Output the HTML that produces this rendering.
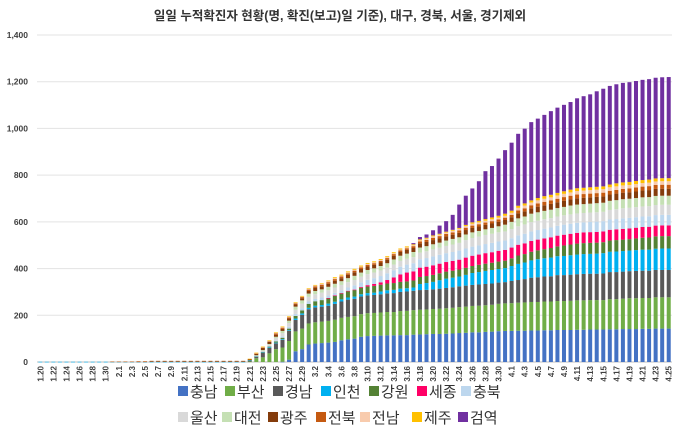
<!DOCTYPE html>
<html><head><meta charset="utf-8"><style>
body{margin:0;background:#fff;}
svg{display:block;font-family:"Liberation Sans","Noto Sans CJK KR",sans-serif;}
</style></head><body>
<svg id="chart" width="680" height="436" viewBox="0 0 680 436" xmlns="http://www.w3.org/2000/svg">
<rect x="0" y="0" width="680" height="436" fill="#fff"/>
<text x="340" y="20" text-anchor="middle" font-size="12.5" font-weight="bold" fill="#333">일일 누적확진자 현황(명, 확진(보고)일 기준), 대구, 경북, 서울, 경기제외</text>
<g id="grid"></g>
<g id="yaxis"></g>
<g id="bars"></g>
<g id="xaxis"></g>
<g id="legend"></g>
</svg>
<script>
const dates = [
"1.20","1.21","1.22","1.23","1.24","1.25","1.26","1.27","1.28","1.29","1.30","1.31",
"2.1","2.2","2.3","2.4","2.5","2.6","2.7","2.8","2.9","2.10","2.11","2.12","2.13","2.14","2.15","2.16","2.17","2.18","2.19","2.20","2.21","2.22","2.23","2.24","2.25","2.26","2.27","2.28","2.29",
"3.1","3.2","3.3","3.4","3.5","3.6","3.7","3.8","3.9","3.10","3.11","3.12","3.13","3.14","3.15","3.16","3.17","3.18","3.19","3.20","3.21","3.22","3.23","3.24","3.25","3.26","3.27","3.28","3.29","3.30","3.31",
"4.1","4.2","4.3","4.4","4.5","4.6","4.7","4.8","4.9","4.10","4.11","4.12","4.13","4.14","4.15","4.16","4.17","4.18","4.19","4.20","4.21","4.22","4.23","4.24","4.25"];
const seriesNames = ["충남","부산","경남","인천","강원","세종","충북","울산","대전","광주","전북","전남","제주","검역"];
const seriesColors = ["#4472C4","#70AD47","#595959","#00B0F0","#548235","#FF0066","#BDD7EE","#D9D9D9","#C5E0B4","#843C0C","#C55A11","#F8CBAD","#FFC000","#7030A0"];
const yTicks = [0,200,400,600,800,1000,1200,1400];
const yTickLabels = ["0","200","400","600","800","1,000","1,200","1,400"];
const JAN0 = [0,0,0,0,0,0,0,0,0,0,0,0];
const chungnam = [...JAN0,
 0,0,0,0,0,0,0,0,0,0,0,0,0,0,0,0,0,0,0,0,0,0,0,0,0,1,10,46,55,
 75,79,81,83,86,93,97,100,108,111,112,113,114,114,115,115,117,118,119,120,120,121,122,124,125,127,127,129,130,132,133,
 133,134,134,135,135,136,136,137,137,137,138,138,139,139,139,140,140,141,141,141,142,142,143,143,143];
const busan = [...JAN0,
 0,0,0,0,0,0,0,0,0,0,0,0,0,0,0,0,0,0,0,0,2,16,20,37,55,61,80,85,88,
 90,91,92,93,95,96,96,96,97,98,98,99,100,100,103,104,105,106,106,107,108,109,110,111,112,113,114,114,115,117,118,
 119,120,121,122,122,123,123,124,124,125,126,126,126,126,126,129,129,130,132,132,132,132,134,134,134];
const gyeongnam = [...JAN0,
 0,0,0,0,0,0,0,0,0,0,0,0,0,0,0,0,0,0,0,0,4,7,20,23,25,33,43,49,59,
 61,64,64,65,68,70,74,75,76,76,77,78,80,81,82,83,83,84,84,84,86,87,88,89,90,90,91,91,91,91,91,
 95,97,100,104,106,107,108,111,111,112,112,113,113,113,114,116,116,116,116,117,117,117,117,117,117];
const incheon = [1,1,1,1,1,1,1,1,1,1,1,1,
 1,1,1,1,1,1,1,1,1,1,1,1,1,1,1,1,1,1,1,1,1,1,2,3,3,3,3,6,6,
 6,7,7,9,9,9,9,9,9,10,10,12,13,14,14,14,14,26,29,32,36,40,41,42,46,51,53,56,58,58,60,
 64,69,71,74,77,78,80,81,82,83,84,85,85,86,87,87,88,88,88,89,90,90,91,92,92];
const gangwon = [...JAN0,
 0,0,0,0,0,0,0,0,0,0,0,0,0,0,0,0,0,0,0,0,0,1,2,3,5,6,7,11,13,
 17,19,21,23,26,26,27,28,28,28,29,29,29,29,29,29,30,30,30,30,30,30,30,30,30,30,31,31,31,32,32,
 33,36,36,37,38,39,41,42,45,46,47,47,47,47,47,48,49,49,49,50,51,52,53,53,53];
const sejong = [...JAN0,
 0,0,0,0,0,0,0,0,0,0,0,0,0,0,0,0,0,0,0,0,0,0,0,0,0,0,0,0,0,
 0,0,0,1,1,1,2,2,3,6,8,10,15,24,32,38,39,40,40,41,41,41,42,42,44,44,44,45,45,46,46,
 46,46,46,46,46,46,46,46,46,46,46,46,46,46,46,46,46,46,46,46,46,46,46,46,46];
const chungbuk = [...JAN0,
 0,0,0,0,0,0,0,0,0,0,0,0,0,0,0,0,0,0,0,0,0,1,2,3,5,6,8,9,9,
 10,10,11,11,11,12,14,18,20,23,25,27,29,31,33,34,35,36,37,38,38,38,38,39,39,39,39,39,40,40,40,
 40,40,41,41,41,42,42,42,43,43,43,43,44,44,44,44,44,45,45,45,45,45,45,45,45];
const ulsan = [...JAN0,
 0,0,0,0,0,0,0,0,0,0,0,0,0,0,0,0,0,0,0,0,0,1,2,5,10,14,16,18,20,
 20,20,21,22,23,23,23,23,24,24,24,24,24,24,25,25,26,28,29,30,30,31,32,33,36,37,38,39,39,39,39,
 39,39,40,40,40,40,40,40,40,40,40,40,40,40,40,41,42,43,43,43,43,43,43,43,43];
const daejeon = [...JAN0,
 0,0,0,0,0,0,0,0,0,0,0,0,0,0,0,0,0,0,0,0,0,2,3,3,5,9,10,13,14,
 14,14,14,15,16,16,17,18,18,18,18,19,19,22,22,22,22,22,22,22,22,23,24,24,24,24,24,24,25,26,29,
 31,34,34,36,36,36,36,36,36,38,38,38,38,39,39,39,39,39,39,39,39,39,39,39,39];
const gwangju = [...JAN0,
 0,0,0,1,1,3,3,3,3,3,3,3,3,3,3,3,3,3,3,3,5,7,9,9,9,9,9,9,9,
 11,13,13,13,13,13,14,15,15,15,15,15,15,16,16,16,17,18,18,18,18,18,18,19,19,19,19,19,19,19,20,
 20,22,22,23,24,24,25,25,26,26,27,27,27,27,27,27,28,28,28,28,29,30,30,30,30];
const jeonbuk = [0,0,0,0,0,0,0,0,0,0,0,1,
 1,1,1,1,1,1,1,1,1,1,1,1,1,1,1,1,1,1,1,1,1,1,2,3,5,5,5,5,5,
 6,7,7,7,7,7,7,7,7,7,7,7,7,7,7,7,8,8,9,10,10,10,10,10,10,10,10,10,10,10,10,
 10,12,13,13,14,15,15,15,16,16,16,16,16,16,16,16,16,16,16,17,17,17,17,17,17];
const jeonnam = [...JAN0,
 0,0,0,0,0,0,0,0,0,0,0,0,0,0,0,0,0,0,0,0,0,1,2,2,3,3,3,3,3,
 4,4,4,4,4,4,4,4,4,4,4,4,4,4,4,4,4,5,5,6,6,6,7,7,7,8,8,8,8,8,8,
 9,11,12,12,13,13,13,14,14,14,15,15,15,15,15,15,15,15,15,15,15,15,15,15,15];
const jeju = [...JAN0,
 0,0,0,0,0,0,0,0,0,0,0,0,0,0,0,0,0,0,0,0,1,2,2,2,2,2,2,2,2,
 2,2,2,3,4,4,4,4,4,4,4,4,4,4,4,4,4,4,4,4,4,4,4,4,5,6,6,7,8,8,9,
 9,9,9,9,10,11,11,11,11,12,12,12,12,12,12,12,13,13,13,13,13,13,13,13,13];
const quarantine = [...JAN0,
 0,0,0,0,0,0,0,0,0,0,0,0,0,0,0,0,0,0,0,0,0,0,0,0,0,0,0,0,0,
 0,0,0,0,0,0,0,0,0,0,0,0,0,0,0,0,5,10,14,22,35,45,64,100,125,145,170,205,220,245,272,
 291,308,320,335,340,348,358,365,370,375,385,392,398,409,418,422,424,426,427,428,429,430,431,432,433];
const seriesValues = [chungnam,busan,gyeongnam,incheon,gangwon,sejong,chungbuk,ulsan,daejeon,gwangju,jeonbuk,jeonnam,jeju,quarantine];

const NS="http://www.w3.org/2000/svg";
const plotL=37, plotR=672, plotT=35, plotB=362, yMax=1400;
const yScale=v=>plotB-(v/yMax)*(plotB-plotT);
const step=(plotR-plotL)/dates.length;
const xScale=i=>plotL+step*(i+0.5);
const barW=4;
function mk(tag,attrs){const e=document.createElementNS(NS,tag);for(const k in attrs)e.setAttribute(k,attrs[k]);return e;}

const grid=document.getElementById('grid'), yaxis=document.getElementById('yaxis');
yTicks.forEach((t,i)=>{
  const l=mk('line',{x1:plotL,x2:plotR,y1:yScale(t),y2:yScale(t),stroke:t===0?'#bfbfbf':'#e3e3e3','stroke-width':1});
  
  
  grid.appendChild(l);
  const tx=mk('text',{x:28,y:yScale(t)+3,'text-anchor':'end','font-size':8.5,'font-weight':'bold',fill:'#404040'});
  tx.textContent=yTickLabels[i];
  
  
  yaxis.appendChild(tx);
});

const bars=document.getElementById('bars');
dates.forEach((d,i)=>{
  let acc=0;
  seriesValues.forEach((s,k)=>{
    const v=s[i]||0;
    if(v>0){
      const y0=yScale(acc), y1=yScale(acc+v);
      const r=mk('rect',{x:xScale(i)-barW/2,y:y1,width:barW,height:Math.max(y0-y1,0.6),fill:seriesColors[k]});
      
      
      bars.appendChild(r);
    }
    acc+=v;
  });
});

const xaxis=document.getElementById('xaxis');
dates.forEach((d,i)=>{
  if(i%2!==0)return;
  const x=xScale(i)+3, y=366;
  const t=mk('text',{x:x,y:y,'text-anchor':'end','font-size':8,'font-weight':'bold',fill:'#404040',transform:'rotate(-90 '+x+' '+y+')'});
  t.textContent=d;
  
  
  xaxis.appendChild(t);
});

const legend=document.getElementById('legend');
const legendPos=[[178,397],[225,397],[273,397],[321,397],[369,397],[417,397],[461,397],
                 [178,423],[222,423],[268,423],[316,423],[360,423],[412,423],[458,423]];
seriesNames.forEach((n,k)=>{
  const [x,y]=legendPos[k];
  const g=mk('g',{});
  
  
  g.appendChild(mk('rect',{x:x,y:y-11,width:10,height:10,fill:seriesColors[k]}));
  const t=mk('text',{x:x+12,y:y,'font-size':15,fill:'#333'});
  t.textContent=n;
  g.appendChild(t);
  legend.appendChild(g);
});
</script>
</body></html>
